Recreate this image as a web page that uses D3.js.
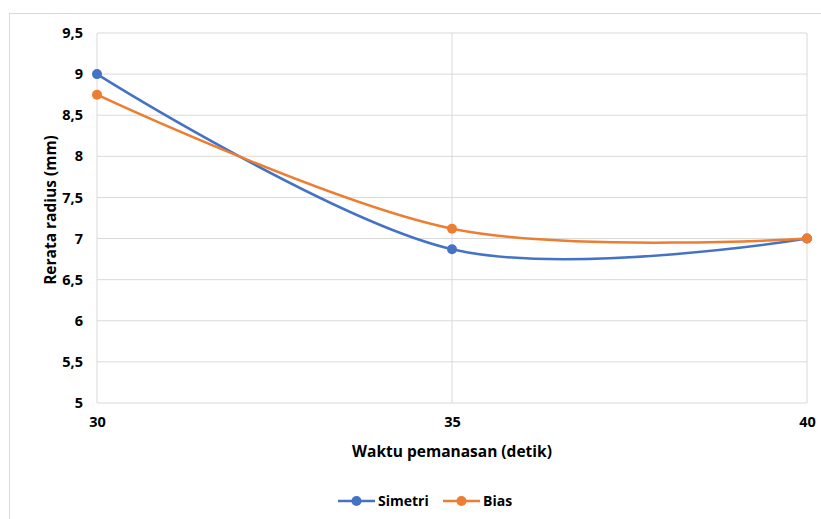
<!DOCTYPE html>
<html>
<head>
<meta charset="utf-8">
<title>Rerata radius</title>
<script src="https://cdn.jsdelivr.net/npm/d3@7"></script>
<style>
    body { margin: 0; background: #fff; }
    text { font-family: "Open Sans", sans-serif; font-weight: bold; fill: #000; }
</style>
</head>
<body>
<div id="chart"></div>
<script>
    // data
    var waktu = [30, 35, 40];
    var simetri = [9, 6.87, 7.0];
    var bias = [8.75, 7.12, 7.0];
    var yTicks = [5, 5.5, 6, 6.5, 7, 7.5, 8, 8.5, 9, 9.5];
    var seriesNames = ["Simetri", "Bias"];
    var colors = ["#4472C4", "#ED7D31"];

    var width = 821, height = 519;
    var margin = {top: 33, right: 14, bottom: 116, left: 97};

    var svg = d3.select("#chart").append("svg")
        .attr("width", width)
        .attr("height", height);

    // outer chart frame
    svg.append("rect")
        .attr("x", 9.5).attr("y", 13.5)
        .attr("width", 840).attr("height", 540)
        .attr("fill", "none")
        .attr("stroke", "#d9d9d9");

    var x = d3.scaleLinear().domain([30, 40]).range([margin.left, width - margin.right]);
    var y = d3.scaleLinear().domain([5, 9.5]).range([height - margin.bottom, margin.top]);

    // gridlines
    svg.append("g").selectAll("line")
        .data(yTicks).enter()
        .append("line")
        .attr("x1", x(30)).attr("x2", x(40))
        .attr("y1", function(d){ return y(d); })
        .attr("y2", function(d){ return y(d); })
        .attr("stroke", "#d9d9d9")
        .attr("stroke-width", 1);
    svg.append("g").selectAll("line")
        .data(waktu).enter()
        .append("line")
        .attr("x1", function(d){ return x(d); })
        .attr("x2", function(d){ return x(d); })
        .attr("y1", y(5)).attr("y2", y(9.5))
        .attr("stroke", "#d9d9d9")
        .attr("stroke-width", 1);

    // axes (labels only)
    var yAxis = d3.axisLeft(y).tickValues(yTicks).tickSize(0).tickPadding(14)
        .tickFormat(function(d){ return String(d).replace(".", ","); });
    var gy = svg.append("g")
        .attr("transform", "translate(" + x(30) + ",0)")
        .call(yAxis);
    gy.select(".domain").remove();
    gy.selectAll("text").attr("font-size", "14.5px").attr("font-family", "'Open Sans', sans-serif");

    var xAxis = d3.axisBottom(x).tickValues(waktu).tickSize(0).tickPadding(14);
    var gx = svg.append("g")
        .attr("transform", "translate(0," + y(5) + ")")
        .call(xAxis);
    gx.select(".domain").remove();
    gx.selectAll("text").attr("font-size", "14.5px").attr("font-family", "'Open Sans', sans-serif");

    // axis titles
    svg.append("text")
        .attr("x", (x(30) + x(40)) / 2)
        .attr("y", 457)
        .attr("text-anchor", "middle")
        .attr("font-size", "15.5px")
        .text("Waktu pemanasan (detik)");
    svg.append("text")
        .attr("transform", "translate(56," + ((y(5) + y(9.5)) / 2 - 8) + ") rotate(-90)")
        .attr("text-anchor", "middle")
        .attr("font-size", "15.5px")
        .text("Rerata radius (mm)");

    // series
    var seriesData = [simetri, bias];
    var line = d3.line()
        .x(function(d, i){ return x(waktu[i]); })
        .y(function(d){ return y(d); })
        .curve(d3.curveCardinal.tension(0));

    seriesData.forEach(function(vals, k){
        svg.append("path")
            .datum(vals)
            .attr("d", line)
            .attr("fill", "none")
            .attr("stroke", colors[k])
            .attr("stroke-width", 2.5)
            .attr("stroke-linecap", "round");
        svg.append("g").selectAll("circle")
            .data(vals).enter()
            .append("circle")
            .attr("cx", function(d, i){ return x(waktu[i]); })
            .attr("cy", function(d){ return y(d); })
            .attr("r", 5)
            .attr("fill", colors[k]);
    });

    // legend
    var legendX = [338, 443];
    var legend = svg.append("g").selectAll("g")
        .data(seriesNames).enter()
        .append("g")
        .attr("transform", function(d, i){ return "translate(" + legendX[i] + ",501)"; });
    legend.append("line")
        .attr("x1", 0).attr("x2", 37)
        .attr("stroke", function(d, i){ return colors[i]; })
        .attr("stroke-width", 2.5);
    legend.append("circle")
        .attr("cx", 18.5).attr("r", 5)
        .attr("fill", function(d, i){ return colors[i]; });
    legend.append("text")
        .attr("x", 40).attr("y", 5)
        .attr("font-size", "14px")
        .text(function(d){ return d; });
</script>
</body>
</html>
